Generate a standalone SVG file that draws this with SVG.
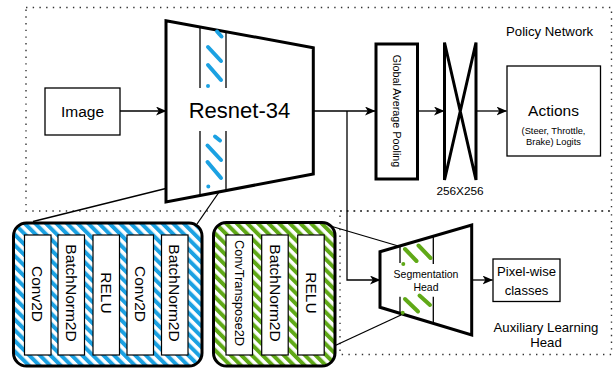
<svg xmlns="http://www.w3.org/2000/svg" width="613" height="368" viewBox="0 0 613 368">
  <defs>
    <style>
      text { font-family: "Liberation Sans", Arial, sans-serif; fill: #000; }
      .dot { fill: none; stroke: #333; stroke-width: 1.4; stroke-dasharray: 1.4 5.3; }
      .thin { fill: #fff; stroke: #000; stroke-width: 1.3; }
      .thick { fill: #fff; stroke: #000; stroke-width: 3; stroke-linejoin: miter; }
      .inner { fill: #fff; stroke: #000; stroke-width: 1.2; }
      .edge { fill: none; stroke: #000; stroke-width: 1.3; }
      .arrow { fill: none; stroke: #000; stroke-width: 1.3; marker-end: url(#arr); }
      .bdash { stroke: #1ba1e2; stroke-width: 4; stroke-linecap: round; fill: none; }
      .gdash { stroke: #60a917; stroke-width: 4; stroke-linecap: round; fill: none; }
      .vert { font-size: 15.5px; }
    </style>
    <marker id="arr" markerWidth="12" markerHeight="10" refX="10" refY="4.5" orient="auto" markerUnits="userSpaceOnUse">
      <path d="M0,0 L10.5,4.5 L0,9 L2.8,4.5 Z" fill="#000"/>
    </marker>
    <pattern id="blueHatch" patternUnits="userSpaceOnUse" width="7.5" height="7.5" patternTransform="rotate(-45)">
      <rect width="7.5" height="7.5" fill="#fff"/>
      <rect width="4" height="7.5" fill="#1ba1e2"/>
    </pattern>
    <pattern id="greenHatch" patternUnits="userSpaceOnUse" width="7.5" height="7.5" patternTransform="rotate(-45)">
      <rect width="7.5" height="7.5" fill="#fff"/>
      <rect width="4" height="7.5" fill="#60a917"/>
    </pattern>
  </defs>

  <g id="policy-network-region">
    <rect class="dot" x="26" y="7.5" width="585.5" height="203.5"/>
    <text x="506" y="35.5" font-size="13.2px">Policy Network</text>
  </g>

  <g id="auxiliary-region">
    <rect class="dot" x="340" y="211" width="271.5" height="143.5"/>
    <text x="546" y="331.5" font-size="13.2px" text-anchor="middle">Auxiliary Learning</text>
    <text x="546" y="346.5" font-size="13.2px" text-anchor="middle">Head</text>
  </g>

  <g id="connectors">
    <line class="arrow" x1="120" y1="111" x2="166" y2="111"/>
    <line class="arrow" x1="313.5" y1="111" x2="375" y2="111"/>
    <polyline class="arrow" points="347,111 347,280 380,280"/>
    <line class="arrow" x1="418" y1="111" x2="444" y2="111"/>
    <line class="arrow" x1="477" y1="111" x2="506.5" y2="111"/>
    <line class="arrow" x1="472" y1="280" x2="492.5" y2="280"/>
    <line class="edge" x1="200" y1="180" x2="33" y2="221.5"/>
    <line class="edge" x1="226" y1="182" x2="197" y2="224"/>
    <line class="edge" x1="327" y1="225" x2="400" y2="246.5"/>
    <line class="edge" x1="332" y1="347" x2="401" y2="315"/>
  </g>

  <g id="image">
    <rect class="thin" x="45" y="88" width="75" height="47"/>
    <text x="82.5" y="116.5" font-size="15.5px" text-anchor="middle">Image</text>
  </g>

  <g id="resnet34">
    <polygon class="thick" points="166,20.7 313.3,47.7 313.3,174 166,202"/>
    <line class="edge" x1="200" y1="27" x2="200" y2="88"/>
    <line class="edge" x1="226" y1="31.7" x2="226" y2="88"/>
    <line class="edge" x1="200" y1="131" x2="200" y2="195"/>
    <line class="edge" x1="226" y1="131" x2="226" y2="190"/>
    <path class="bdash" d="M217,31.5 L221.5,36.5 M208,47 L221,61 M208,65 L221,80 M208,86 L208,86"/>
    <path class="bdash" d="M215,136.5 L220,140.5 M207.5,145.5 L221,160 M207.5,162 L221,178 M208.3,186.5 L208.3,186.5"/>
    <text x="239.5" y="118" font-size="22px" text-anchor="middle">Resnet-34</text>
  </g>

  <g id="global-average-pooling">
    <rect class="thick" x="376" y="44" width="41.5" height="135"/>
    <text transform="translate(397,111) rotate(90)" font-size="10.8px" text-anchor="middle" dominant-baseline="central">Global Average Pooling</text>
  </g>

  <g id="fc-256x256">
    <path class="thick" d="M444.5,42.5 L476,180 L476,42.5 L444.5,180 Z" fill="none"/>
    <text x="460" y="195" font-size="11.8px" text-anchor="middle">256X256</text>
  </g>

  <g id="actions">
    <rect class="thin" x="507" y="66" width="93.5" height="90"/>
    <text x="553.5" y="116" font-size="15.5px" text-anchor="middle">Actions</text>
    <text x="553.5" y="134" font-size="9.3px" text-anchor="middle">(Steer, Throttle,</text>
    <text x="553.5" y="144.5" font-size="9.3px" text-anchor="middle">Brake) Logits</text>
  </g>

  <g id="residual-block">
    <rect x="13.5" y="223" width="188.5" height="143" rx="13" ry="13" fill="url(#blueHatch)" stroke="#000" stroke-width="3"/>
    <rect class="inner" x="24.5" y="235" width="26.5" height="120"/>
    <rect class="inner" x="58" y="235" width="26.5" height="120"/>
    <rect class="inner" x="93" y="235" width="26.5" height="120"/>
    <rect class="inner" x="127" y="235" width="26.5" height="120"/>
    <rect class="inner" x="161.5" y="235" width="26.5" height="120"/>
    <text class="vert" transform="translate(37.7,294) rotate(90)" text-anchor="middle" dominant-baseline="central">Conv2D</text>
    <text class="vert" transform="translate(71.3,293) rotate(90)" text-anchor="middle" dominant-baseline="central">BatchNorm2D</text>
    <text class="vert" transform="translate(106.2,293) rotate(90)" text-anchor="middle" dominant-baseline="central">RELU</text>
    <text class="vert" transform="translate(140.2,294) rotate(90)" text-anchor="middle" dominant-baseline="central">Conv2D</text>
    <text class="vert" transform="translate(174.8,293) rotate(90)" text-anchor="middle" dominant-baseline="central">BatchNorm2D</text>
  </g>

  <g id="upsample-block">
    <rect x="213.5" y="222.5" width="121.5" height="143.5" rx="13" ry="13" fill="url(#greenHatch)" stroke="#000" stroke-width="3"/>
    <rect class="inner" x="226" y="235" width="26.5" height="120"/>
    <rect class="inner" x="261.7" y="235" width="26.5" height="120"/>
    <rect class="inner" x="297.7" y="235" width="26.5" height="120"/>
    <text transform="translate(239.2,293) rotate(90)" font-size="12.8px" text-anchor="middle" dominant-baseline="central">ConvTranspose2D</text>
    <text class="vert" transform="translate(275,293) rotate(90)" text-anchor="middle" dominant-baseline="central">BatchNorm2D</text>
    <text class="vert" transform="translate(311,293) rotate(90)" text-anchor="middle" dominant-baseline="central">RELU</text>
  </g>

  <g id="segmentation-head">
    <polygon class="thick" points="380,251.7 471.7,225 471.7,335 380,307.3"/>
    <line class="edge" x1="400" y1="246" x2="400" y2="263"/>
    <line class="edge" x1="433.3" y1="236.3" x2="433.3" y2="264"/>
    <line class="edge" x1="400" y1="296.7" x2="400" y2="313.3"/>
    <line class="edge" x1="433.3" y1="296.7" x2="433.3" y2="323"/>
    <path class="gdash" d="M405,249 L416.5,261 M418.5,245.5 L430.5,258 M403.3,264 L403.3,264"/>
    <path class="gdash" d="M405,299 L418,311.5 M419.5,295.5 L430,305 M402.7,312.7 L402.7,312.7"/>
    <text x="426" y="277.5" font-size="10.5px" text-anchor="middle">Segmentation</text>
    <text x="426" y="290.5" font-size="10.5px" text-anchor="middle">Head</text>
  </g>

  <g id="pixel-wise-classes">
    <rect class="thin" x="493" y="259" width="67" height="42.5"/>
    <text x="526.5" y="275.5" font-size="13.1px" text-anchor="middle">Pixel-wise</text>
    <text x="526.5" y="294.5" font-size="13.1px" text-anchor="middle">classes</text>
  </g>
</svg>
